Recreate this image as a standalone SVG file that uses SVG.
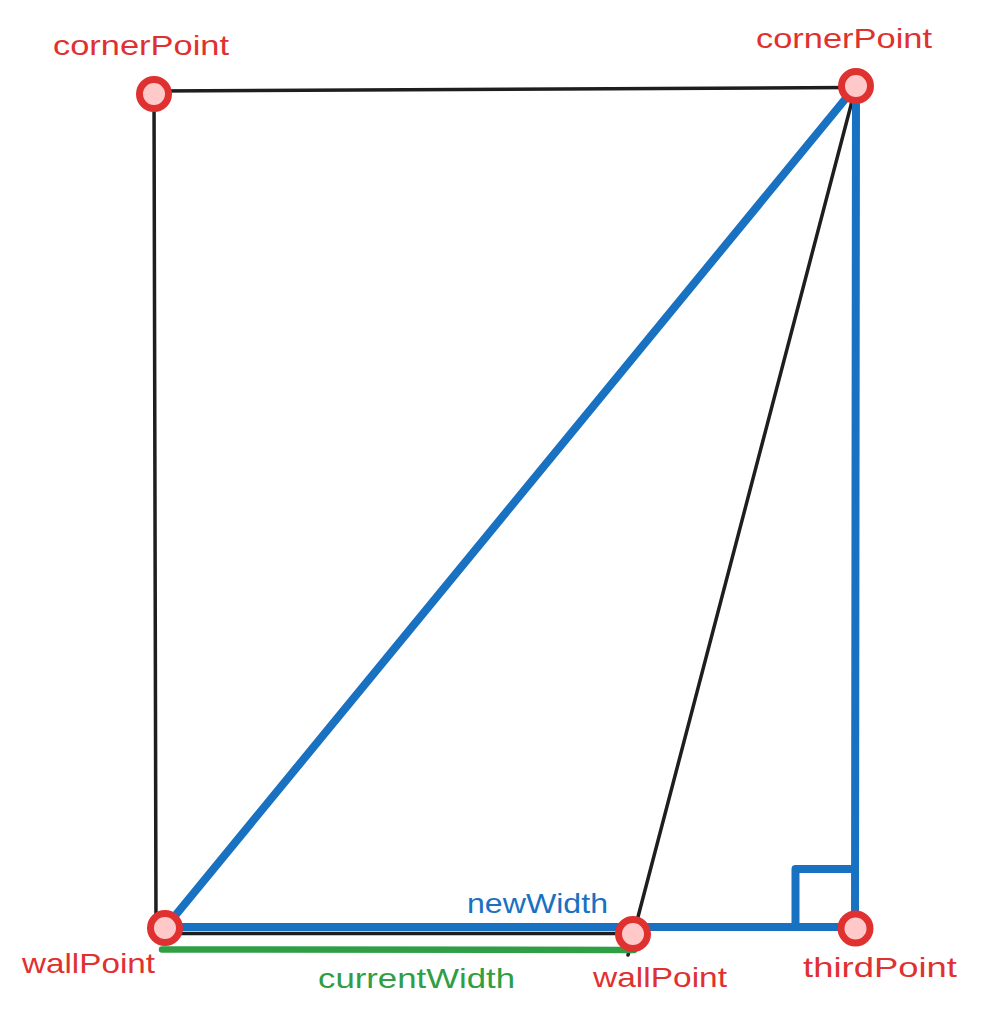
<svg xmlns="http://www.w3.org/2000/svg" width="982" height="1021" viewBox="0 0 982 1021">
<style>
.bk{fill:none;stroke:#1e1e1e;stroke-width:3.5;stroke-linecap:round;stroke-linejoin:round}
.bl{fill:none;stroke:#1971c2;stroke-width:8;stroke-linecap:round;stroke-linejoin:round}
.gr{fill:none;stroke:#2f9e44;stroke-width:6.5;stroke-linecap:round}
.pt{fill:#ffc9c9;stroke:#e03131;stroke-width:7}
text{font-family:"Liberation Sans","DejaVu Sans",sans-serif;font-size:28px}
.r{fill:#e03131}.b{fill:#1971c2}.g{fill:#2f9e44}
</style>
<rect width="982" height="1021" fill="#ffffff"/>
<g id="connectors">
<polyline class="bk" points="850,87.5 154,91 156,931 160,933.5 633,933.5"/>
<line class="bk" x1="856" y1="86" x2="628" y2="955"/>
<line class="gr" x1="162" y1="949.5" x2="634" y2="950"/>
<line class="bl" x1="856" y1="86" x2="165" y2="928"/>
<line class="bl" x1="856" y1="86" x2="855" y2="928"/>
<line class="bl" x1="165" y1="927" x2="855" y2="927"/>
<polyline class="bl" points="795.5,927 795.5,869 855,869"/>
</g>
<g id="cornerPointTL"><circle class="pt" cx="154" cy="94" r="14.5"/><text class="r" x="53" y="55" textLength="176" lengthAdjust="spacingAndGlyphs">cornerPoint</text></g>
<g id="cornerPointTR"><circle class="pt" cx="856" cy="86" r="14.5"/><text class="r" x="756" y="48" textLength="176" lengthAdjust="spacingAndGlyphs">cornerPoint</text></g>
<g id="wallPointL"><circle class="pt" cx="165" cy="928" r="14.5"/><text class="r" x="22" y="973" textLength="133" lengthAdjust="spacingAndGlyphs">wallPoint</text></g>
<g id="wallPointM"><circle class="pt" cx="633" cy="934" r="14.5"/><text class="r" x="593" y="987" textLength="134" lengthAdjust="spacingAndGlyphs">wallPoint</text></g>
<g id="thirdPoint"><circle class="pt" cx="855.5" cy="928.5" r="14.5"/><text class="r" x="803" y="977" textLength="154" lengthAdjust="spacingAndGlyphs">thirdPoint</text></g>
<g id="newWidth"><text class="b" x="467" y="913" textLength="141" lengthAdjust="spacingAndGlyphs">newWidth</text></g>
<g id="currentWidth"><text class="g" x="318" y="988" textLength="197" lengthAdjust="spacingAndGlyphs">currentWidth</text></g>
</svg>
